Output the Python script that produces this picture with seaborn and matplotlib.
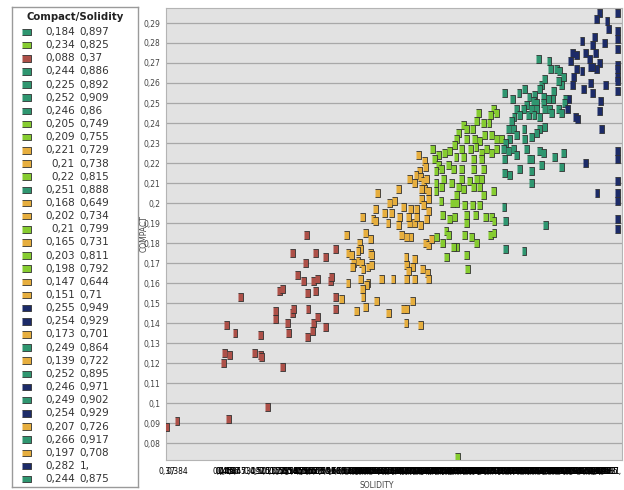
import numpy as np
import pandas as pd
import matplotlib
matplotlib.use('Agg')
import matplotlib.pyplot as plt
import seaborn as sns

#%% Data (solidity on x, compact on y), one block per colour
red_solidity = [0.370, 0.384, 0.456, 0.510, 0.473, 0.453, 0.465, 0.450, 0.457, 0.449,
                0.492, 0.501, 0.501, 0.502, 0.532, 0.522, 0.522, 0.527, 0.531, 0.538,
                0.540, 0.546, 0.547, 0.553, 0.561, 0.566, 0.567, 0.566, 0.573, 0.575,
                0.580, 0.575, 0.580, 0.577, 0.592, 0.598, 0.600, 0.606, 0.606, 0.565,
                0.545, 0.577, 0.591, 0.564, 0.605]
red_compact = [0.088, 0.091, 0.092, 0.098, 0.153, 0.139, 0.135, 0.125, 0.124, 0.120,
               0.125, 0.134, 0.124, 0.123, 0.118, 0.142, 0.146, 0.156, 0.157, 0.140,
               0.135, 0.145, 0.147, 0.164, 0.161, 0.155, 0.147, 0.133, 0.136, 0.140,
               0.143, 0.161, 0.162, 0.156, 0.138, 0.161, 0.163, 0.153, 0.147, 0.184,
               0.175, 0.175, 0.173, 0.170, 0.177]

orange_solidity = [0.664, 0.661, 0.643, 0.658, 0.661, 0.621, 0.647, 0.654, 0.639, 0.640,
                   0.637, 0.623, 0.628, 0.654, 0.656, 0.631, 0.637, 0.642, 0.629, 0.644,
                   0.651, 0.656, 0.651, 0.649, 0.640, 0.623, 0.643, 0.644, 0.614, 0.663,
                   0.647, 0.635,
                   0.722, 0.730, 0.731, 0.723, 0.718, 0.709, 0.716, 0.724, 0.728, 0.733,
                   0.730, 0.735, 0.726, 0.694, 0.735, 0.726,
                   0.670, 0.686, 0.705, 0.716, 0.727, 0.734, 0.736, 0.704, 0.716, 0.705,
                   0.713, 0.707, 0.698, 0.705, 0.711, 0.731, 0.736, 0.740, 0.713, 0.700,
                   0.705, 0.680, 0.704, 0.724, 0.679, 0.693, 0.709, 0.716, 0.724, 0.674,
                   0.684, 0.695, 0.707, 0.719, 0.733, 0.681, 0.688, 0.700, 0.710, 0.719,
                   0.728, 0.735]
orange_compact = [0.205, 0.197, 0.193, 0.192, 0.191, 0.184, 0.185, 0.182, 0.180, 0.177,
                  0.176, 0.175, 0.174, 0.175, 0.174, 0.170, 0.171, 0.170, 0.168, 0.167,
                  0.168, 0.169, 0.160, 0.159, 0.162, 0.160, 0.157, 0.153, 0.152, 0.151,
                  0.148, 0.146,
                  0.224, 0.221, 0.218, 0.216, 0.214, 0.212, 0.210, 0.213, 0.211, 0.212,
                  0.207, 0.206, 0.207, 0.207, 0.202, 0.202,
                  0.162, 0.162, 0.162, 0.162, 0.167, 0.165, 0.162, 0.173, 0.172, 0.169,
                  0.168, 0.166, 0.184, 0.183, 0.183, 0.180, 0.179, 0.182, 0.151, 0.147,
                  0.147, 0.145, 0.140, 0.139, 0.190, 0.189, 0.190, 0.190, 0.189, 0.195,
                  0.195, 0.193, 0.193, 0.193, 0.192, 0.200, 0.201, 0.198, 0.197, 0.197,
                  0.199, 0.196]

green_solidity = [0.741, 0.749, 0.744, 0.749, 0.746, 0.746, 0.746,
                  0.805, 0.812, 0.820, 0.826, 0.831, 0.822, 0.784, 0.778, 0.789, 0.797,
                  0.803, 0.775, 0.772, 0.789, 0.800, 0.807, 0.814, 0.824, 0.831, 0.837,
                  0.782, 0.784, 0.794, 0.802, 0.810, 0.817, 0.824, 0.830, 0.758, 0.765,
                  0.774, 0.798, 0.810, 0.764, 0.754, 0.770, 0.782, 0.782, 0.798, 0.813,
                  0.756, 0.754, 0.768, 0.777, 0.793, 0.803, 0.810, 0.798, 0.807, 0.812,
                  0.826, 0.775, 0.784,
                  0.753, 0.769, 0.775, 0.786, 0.797, 0.807, 0.755, 0.765, 0.772, 0.789,
                  0.801, 0.815, 0.824, 0.827, 0.789, 0.747, 0.755, 0.760, 0.763, 0.775,
                  0.771, 0.786, 0.796, 0.803, 0.822, 0.827, 0.761, 0.789, 0.790, 0.776]
green_compact = [0.227, 0.224, 0.222, 0.219, 0.216, 0.210, 0.206,
                 0.245, 0.240, 0.240, 0.247, 0.245, 0.244, 0.239, 0.235, 0.237, 0.237,
                 0.241, 0.232, 0.229, 0.232, 0.232, 0.231, 0.234, 0.234, 0.232, 0.232,
                 0.227, 0.223, 0.227, 0.228, 0.225, 0.227, 0.225, 0.227, 0.225, 0.226,
                 0.223, 0.222, 0.222, 0.219, 0.217, 0.217, 0.217, 0.212, 0.217, 0.217,
                 0.212, 0.208, 0.210, 0.208, 0.211, 0.212, 0.212, 0.208, 0.208, 0.204,
                 0.206, 0.204, 0.207,
                 0.201, 0.200, 0.200, 0.199, 0.199, 0.199, 0.194, 0.192, 0.193, 0.194,
                 0.194, 0.193, 0.193, 0.191, 0.190, 0.183, 0.180, 0.186, 0.184, 0.178,
                 0.178, 0.184, 0.183, 0.180, 0.184, 0.185, 0.173, 0.174, 0.167, 0.073]

teal_solidity = [0.842, 0.853, 0.862, 0.870, 0.876, 0.872, 0.868, 0.859, 0.863, 0.875,
                 0.855, 0.851, 0.847, 0.854, 0.858, 0.849, 0.843, 0.840, 0.847, 0.854,
                 0.859, 0.869, 0.870, 0.872, 0.876, 0.842, 0.863, 0.849, 0.842,
                 0.889, 0.904, 0.906, 0.914, 0.919, 0.924, 0.921, 0.917, 0.910, 0.909,
                 0.903, 0.893, 0.898, 0.891, 0.884, 0.896, 0.882, 0.886, 0.896, 0.879,
                 0.886, 0.891, 0.883, 0.898, 0.905, 0.907, 0.917, 0.921, 0.927, 0.926,
                 0.898, 0.891, 0.886, 0.879, 0.891, 0.896, 0.893, 0.879, 0.879, 0.912,
                 0.924, 0.922, 0.879, 0.899,
                 0.841, 0.843, 0.843, 0.869]
teal_compact = [0.255, 0.252, 0.255, 0.257, 0.253, 0.249, 0.247, 0.247, 0.244, 0.244,
                0.243, 0.241, 0.237, 0.237, 0.234, 0.232, 0.230, 0.227, 0.226, 0.227,
                0.224, 0.237, 0.232, 0.227, 0.222, 0.222, 0.217, 0.214, 0.215,
                0.272, 0.271, 0.267, 0.267, 0.266, 0.263, 0.259, 0.261, 0.256, 0.252,
                0.252, 0.259, 0.262, 0.257, 0.254, 0.253, 0.251, 0.250, 0.250, 0.247,
                0.247, 0.243, 0.244, 0.247, 0.247, 0.245, 0.247, 0.245, 0.252, 0.250,
                0.238, 0.237, 0.235, 0.233, 0.226, 0.225, 0.219, 0.222, 0.216, 0.223,
                0.225, 0.218, 0.210, 0.189,
                0.198, 0.191, 0.177, 0.176]

navy_solidity = [0.974, 0.970, 0.985, 0.987, 0.968, 0.982, 0.950, 0.965, 0.969, 0.937,
                 0.942, 0.934, 0.955, 0.961, 0.962, 0.974, 0.970, 0.965, 0.943, 0.950,
                 0.938, 0.937, 0.952, 0.962, 0.965, 0.983, 0.976, 0.975, 0.932, 0.930,
                 0.941, 0.944, 0.977, 0.955, 0.971,
                 1.0, 1.0, 1.0, 1.0, 1.0, 1.0, 1.0, 1.0, 1.0, 1.0, 1.0, 1.0, 1.0, 1.0,
                 1.0, 1.0]
navy_compact = [0.295, 0.292, 0.291, 0.287, 0.283, 0.280, 0.281, 0.279, 0.275, 0.275,
                0.274, 0.271, 0.275, 0.272, 0.268, 0.270, 0.267, 0.268, 0.267, 0.266,
                0.263, 0.259, 0.257, 0.260, 0.255, 0.259, 0.251, 0.246, 0.252, 0.247,
                0.243, 0.242, 0.237, 0.220, 0.205,
                0.295, 0.286, 0.282, 0.277, 0.269, 0.267, 0.263, 0.261, 0.256, 0.226,
                0.222, 0.211, 0.205, 0.201, 0.192, 0.187]

# Legend entries shown in the box on the left
legend_compact = [0.184, 0.234, 0.088, 0.244, 0.225, 0.252, 0.246, 0.205, 0.209, 0.221,
                  0.21, 0.22, 0.251, 0.168, 0.202, 0.21, 0.165, 0.203, 0.198, 0.147,
                  0.151, 0.255, 0.254, 0.173, 0.249, 0.139, 0.252, 0.246, 0.249, 0.254,
                  0.207, 0.266, 0.197, 0.282, 0.244]
legend_solidity = [0.897, 0.825, 0.37, 0.886, 0.892, 0.909, 0.86, 0.749, 0.755, 0.729,
                   0.738, 0.815, 0.888, 0.649, 0.734, 0.799, 0.731, 0.811, 0.792, 0.644,
                   0.71, 0.949, 0.929, 0.701, 0.864, 0.722, 0.895, 0.971, 0.902, 0.929,
                   0.726, 0.917, 0.708, 1.0, 0.875]
legend_group = ['teal', 'green', 'red', 'teal', 'teal', 'teal', 'teal', 'green', 'green',
                'orange', 'orange', 'green', 'teal', 'orange', 'orange', 'green', 'orange',
                'green', 'green', 'orange', 'orange', 'navy', 'navy', 'orange', 'teal',
                'orange', 'teal', 'navy', 'teal', 'navy', 'orange', 'teal', 'orange',
                'navy', 'teal']

y_ticks = [0.08, 0.09, 0.10, 0.11, 0.12, 0.13, 0.14, 0.15, 0.16, 0.17, 0.18,
           0.19, 0.20, 0.21, 0.22, 0.23, 0.24, 0.25, 0.26, 0.27, 0.28, 0.29]

palette = {'red': '#ad5048', 'orange': '#e6ae3e', 'green': '#86cc30',
           'teal': '#2f9670', 'navy': '#1c2b68'}

#%% Build DataFrame
frames = []
for name, xs, ys in [('red', red_solidity, red_compact),
                     ('orange', orange_solidity, orange_compact),
                     ('green', green_solidity, green_compact),
                     ('teal', teal_solidity, teal_compact),
                     ('navy', navy_solidity, navy_compact)]:
    frames.append(pd.DataFrame({'solidity': xs, 'compact': ys, 'group': name}))
df = pd.concat(frames, ignore_index=True)


def comma(v, ndig=3):
    # 0.370 -> '0,37', 1.0 -> '1,'
    return f"{v:.{ndig}f}".rstrip('0').replace('.', ',')


#%% Figure
sns.set_style('white')
plt.rcParams['font.family'] = ['DejaVu Sans']

fig = plt.figure(figsize=(6.24, 4.9), dpi=100)
ax = fig.add_axes([166/624, 30/490, 456/624, 452/490])
ax.set_facecolor('#e2e2e2')

tall_box = [(-0.6, -1), (0.6, -1), (0.6, 1), (-0.6, 1)]
sns.scatterplot(data=df, x='solidity', y='compact', hue='group', palette=palette,
                marker=tall_box, s=34, edgecolor='#303030', linewidth=0.6,
                legend=False, ax=ax, zorder=3)

ax.set_xlim(0.3686, 1.006)
ax.set_ylim(0.0715, 0.2975)

# y axis
ax.set_yticks(y_ticks)
ax.set_yticklabels([comma(v, 2) for v in y_ticks], fontsize=5.5, color='#444444')
ax.yaxis.grid(True, color='#a8a8a8', linewidth=0.9)
ax.xaxis.grid(False)
ax.set_axisbelow(True)

# x axis: a tick for every distinct solidity value
x_vals = np.unique(df['solidity'].values)
ax.set_xticks(x_vals)
ax.set_xticklabels([comma(v) for v in x_vals], fontsize=5.5, color='black')
ax.tick_params(axis='x', length=3, width=0.6, color='#222222', pad=2)
ax.tick_params(axis='y', length=3, width=0.6, color='#888888', pad=1)

ax.set_xlabel('SOLIDITY', fontsize=5.5, color='#444444')
ax.set_ylabel('COMPACT', fontsize=5.5, color='#444444')
ax.xaxis.set_label_coords(0.463, -0.046)
ax.yaxis.set_label_coords(-0.039, 0.5)

for sp in ax.spines.values():
    sp.set_color('#b4b4b4')
    sp.set_linewidth(0.8)

#%% Legend box drawn by hand on its own axes
lax = fig.add_axes([12/624, 3/490, 126/624, 480/490])
lax.set_xlim(0, 126)
lax.set_ylim(480, 0)
lax.set_xticks([])
lax.set_yticks([])
for sp in lax.spines.values():
    sp.set_color('#9a9a9a')
    sp.set_linewidth(1)

lax.text(63, 9.5, 'Compact/Solidity', ha='center', va='center',
         fontsize=7.3, fontweight='bold', color='#222222')
wide_box = [(-1.3, -1), (1.3, -1), (1.3, 1), (-1.3, 1)]
rows = np.arange(len(legend_compact))
row_y = 25 + rows * 13.15
lax.scatter(np.full(len(rows), 14.7), row_y,
            c=[palette[g] for g in legend_group], marker=wide_box, s=38,
            edgecolors='#303030', linewidths=0.6)
for yy, cv, sv in zip(row_y, legend_compact, legend_solidity):
    lax.text(63, yy, comma(cv), ha='right', va='center', fontsize=7.5, color='#333333')
    lax.text(67.5, yy, comma(sv), ha='left', va='center', fontsize=7.5, color='#333333')

fig.savefig('out.png', dpi=100)
